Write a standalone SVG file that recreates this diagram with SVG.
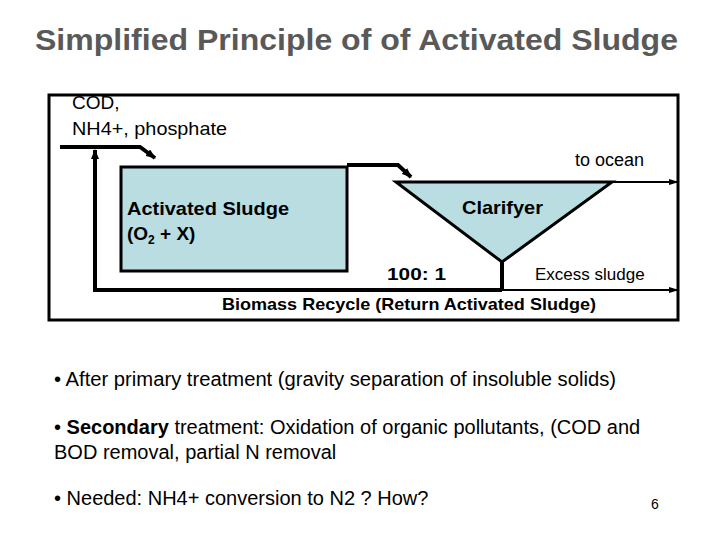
<svg xmlns="http://www.w3.org/2000/svg" width="720" height="540" viewBox="0 0 720 540">
<defs>
<marker id="ah" markerWidth="10" markerHeight="8" refX="9" refY="4" orient="auto" markerUnits="userSpaceOnUse"><path d="M0,0 L10,4 L0,8 z" fill="#000"/></marker>
<marker id="ahs" markerWidth="10" markerHeight="6" refX="9" refY="3" orient="auto" markerUnits="userSpaceOnUse"><path d="M0,0 L10,3 L0,6 z" fill="#000"/></marker>
</defs>
<style>
text{font-family:"Liberation Sans",Arial,sans-serif;fill:#000}
.b{font-weight:bold}
.ln{fill:none;stroke:#000;stroke-width:4}
.tn{fill:none;stroke:#000;stroke-width:2}
</style>
<rect width="720" height="540" fill="#fff"/>
<text x="35" y="50" font-size="30" class="b" textLength="643" lengthAdjust="spacingAndGlyphs" style="fill:#595959">Simplified Principle of of Activated Sludge</text>
<rect x="49" y="95" width="629" height="225" fill="none" stroke="#000" stroke-width="3"/>
<g id="aeration"><rect x="121" y="167" width="226" height="104" fill="#b9dde1" stroke="#000" stroke-width="3"/>
<text x="127" y="215" font-size="19" class="b" textLength="162" lengthAdjust="spacingAndGlyphs">Activated Sludge</text>
<text x="127" y="240" font-size="19" class="b">(O<tspan font-size="12" dy="4">2</tspan><tspan dy="-4"> + X)</tspan></text></g>
<g id="clarifier"><polygon points="396,182 612,182 502,262" fill="#b9dde1" stroke="#000" stroke-width="3"/>
<text x="462" y="214" font-size="19" class="b" textLength="81" lengthAdjust="spacingAndGlyphs">Clarifyer</text></g>
<g id="connectors">
<polyline class="ln" points="60,147 140,147 155,158" marker-end="url(#ah)"/>
<polyline class="ln" points="347,165 398,165 411,177" marker-end="url(#ah)"/>
<polyline class="ln" points="502,262 502,290"/>
<line class="ln" x1="95" y1="290" x2="95" y2="150" marker-end="url(#ah)"/>
<line class="ln" x1="93" y1="290" x2="502" y2="290"/>
<line class="tn" x1="502" y1="290" x2="678" y2="290" marker-end="url(#ahs)"/>
<line class="tn" x1="612" y1="182" x2="678" y2="182" marker-end="url(#ahs)"/>
</g>
<g id="labels">
<text x="72" y="109" font-size="19">COD,</text>
<text x="72" y="135" font-size="19" textLength="155" lengthAdjust="spacingAndGlyphs">NH4+, phosphate</text>
<text x="575" y="166" font-size="18">to ocean</text>
<text x="387" y="280" font-size="17" class="b" textLength="59" lengthAdjust="spacingAndGlyphs">100: 1</text>
<text x="535" y="280" font-size="17">Excess sludge</text>
<text x="222" y="310" font-size="17" class="b" textLength="374" lengthAdjust="spacingAndGlyphs">Biomass Recycle (Return Activated Sludge)</text>
</g>
<g font-size="20">
<text x="54" y="386" textLength="562" lengthAdjust="spacingAndGlyphs">• After primary treatment (gravity separation of insoluble solids)</text>
<text x="54" y="434">• <tspan class="b">Secondary</tspan> treatment: Oxidation of organic pollutants, (COD  and</text>
<text x="54" y="459">BOD removal, partial N removal</text>
<text x="54" y="505">• Needed: NH4+ conversion to N2 ? How?</text>
<text x="651" y="509" font-size="14">6</text>
</g>
</svg>
